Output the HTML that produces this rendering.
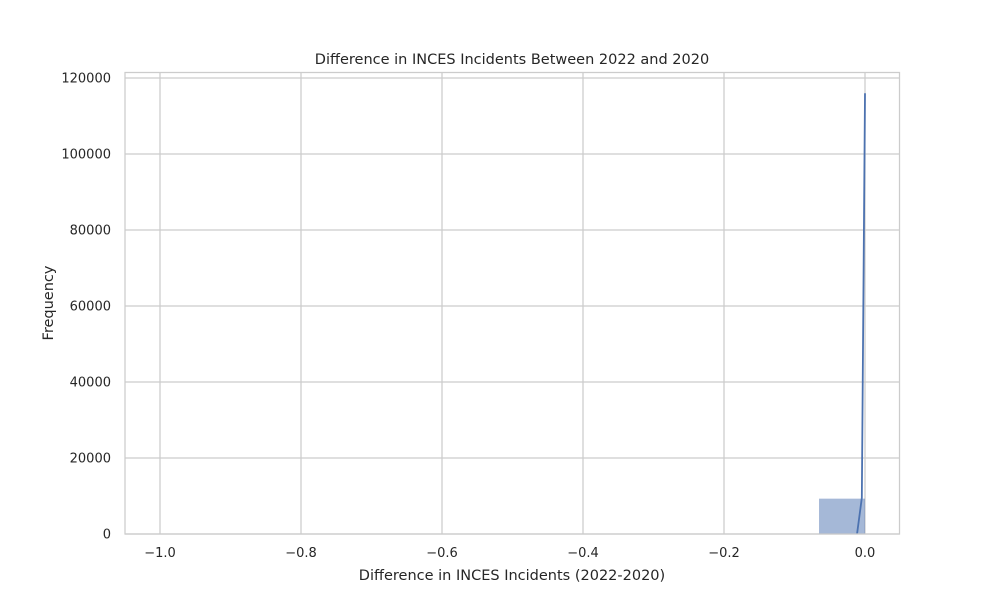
<!DOCTYPE html>
<html><head><meta charset="utf-8"><style>
body{margin:0;background:#fff}
svg text{font-family:"DejaVu Sans","Liberation Sans",sans-serif;fill:#262626}
</style></head><body>
<svg id="chart" width="1000" height="600" xmlns="http://www.w3.org/2000/svg">
<rect x="0" y="0" width="1000" height="600" fill="#fff"/>
<g id="grid"></g>
<g id="bars"></g>
<g id="kde"></g>
<rect x="125" y="72.5" width="774.5" height="461.5" fill="none" stroke="#cccccc" stroke-width="1.25"/>
<g id="ticks"></g>
<text x="512" y="64" text-anchor="middle" font-size="14.5">Difference in INCES Incidents Between 2022 and 2020</text>
<text x="512" y="580" text-anchor="middle" font-size="14.5">Difference in INCES Incidents (2022-2020)</text>
<text transform="translate(53,303) rotate(-90)" text-anchor="middle" font-size="14.5">Frequency</text>
</svg>
<script>
const xTicks=[-1.0,-0.8,-0.6,-0.4,-0.2,0.0];
const xTickLabels=["\u22121.0","\u22120.8","\u22120.6","\u22120.4","\u22120.2","0.0"];
const yTicks=[0,20000,40000,60000,80000,100000,120000];
const yTickLabels=["0","20000","40000","60000","80000","100000","120000"];
const binStarts=[-0.0652];
const binEnds=[0.0];
const binCounts=[9300];
const kdeX=[-0.0113,-0.0045,0.0];
const kdeY=[0,9500,116000];

const NS="http://www.w3.org/2000/svg";
const sx=v=>865+705*v;
const sy=v=>534-v*456/120000;
function mk(tag,attrs,parent){const e=document.createElementNS(NS,tag);for(const k in attrs)e.setAttribute(k,attrs[k]);document.getElementById(parent).appendChild(e);return e;}
xTicks.forEach((t,i)=>{
  const l=mk('line',{x1:sx(t),x2:sx(t),y1:72.5,y2:534,stroke:'#cccccc','stroke-width':1.25},'grid');
  
  
  const tx=mk('text',{x:sx(t),y:557,'text-anchor':'middle','font-size':13},'ticks');
  tx.textContent=xTickLabels[i];
  
  
});
yTicks.forEach((t,i)=>{
  const l=mk('line',{x1:125,x2:899.5,y1:sy(t),y2:sy(t),stroke:'#cccccc','stroke-width':1.25},'grid');
  
  
  const tx=mk('text',{x:111,y:sy(t)+4.5,'text-anchor':'end','font-size':13},'ticks');
  tx.textContent=yTickLabels[i];
  
  
});
binCounts.forEach((c,i)=>{
  const r=mk('rect',{x:sx(binStarts[i]),y:sy(c),width:sx(binEnds[i])-sx(binStarts[i]),height:sy(0)-sy(c),fill:'#4c72b0','fill-opacity':0.5},'bars');
  
  
});
const p=mk('polyline',{points:kdeX.map((x,i)=>sx(x)+','+sy(kdeY[i])).join(' '),fill:'none',stroke:'#4c72b0','stroke-width':1.8},'kde');


</script>
</body></html>
